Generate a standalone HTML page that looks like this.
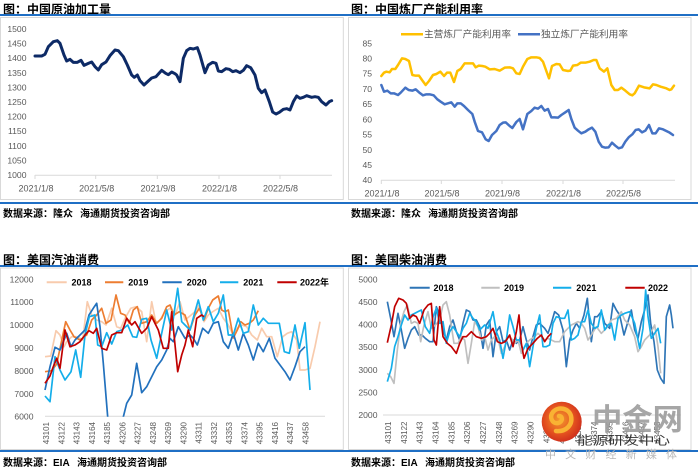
<!DOCTYPE html>
<html><head><meta charset="utf-8"><style>
html,body{margin:0;padding:0;background:#fff;}
svg{display:block;}
text{font-family:"Liberation Sans","Noto Sans CJK SC",sans-serif;}
</style></head><body>
<svg width="698" height="470" viewBox="0 0 698 470" xmlns="http://www.w3.org/2000/svg">
<defs>
<clipPath id="cg"><rect x="35" y="268" width="300" height="148.7"/></clipPath>
<radialGradient id="wg" cx="0.45" cy="0.45" r="0.6"><stop offset="0" stop-color="#F39A2E"/><stop offset="0.6" stop-color="#E4521F"/><stop offset="1" stop-color="#CC2A1C"/></radialGradient>
</defs>
<rect width="698" height="470" fill="#fff"/>

<!-- ============ TOP LEFT ============ -->
<text x="3" y="13.5" font-size="12" font-weight="bold" fill="#000">图：中国原油加工量</text>
<rect x="0.5" y="17.5" width="342.8" height="182" fill="#fff" stroke="#d9d9d9"/>
<g font-size="8.6" fill="#595959" text-anchor="end">
<text x="26.5" y="32">1500</text><text x="26.5" y="46.6">1450</text><text x="26.5" y="61.2">1400</text><text x="26.5" y="75.8">1350</text><text x="26.5" y="90.4">1300</text><text x="26.5" y="105">1250</text><text x="26.5" y="119.6">1200</text><text x="26.5" y="134.2">1150</text><text x="26.5" y="148.8">1100</text><text x="26.5" y="163.4">1050</text><text x="26.5" y="178">1000</text>
</g>
<g stroke="#d9d9d9" stroke-width="1">
<line x1="35" y1="175.3" x2="332" y2="175.3"/>
<line x1="35" y1="175" x2="35" y2="179"/><line x1="95.7" y1="175" x2="95.7" y2="179"/><line x1="157.3" y1="175" x2="157.3" y2="179"/><line x1="219" y1="175" x2="219" y2="179"/><line x1="280" y1="175" x2="280" y2="179"/>
</g>
<g font-size="9" fill="#595959" text-anchor="middle">
<text x="36" y="191.5">2021/1/8</text><text x="96.7" y="191.5">2021/5/8</text><text x="158" y="191.5">2021/9/8</text><text x="219.5" y="191.5">2022/1/8</text><text x="280.5" y="191.5">2022/5/8</text>
</g>
<g transform="scale(0.33333)">
<path d="M105,168 L125,168 L135,163 L145,140 L160,125 L172,122 L180,130 L192,165 L200,183 L210,178 L220,187 L232,187 L243,181 L252,196 L265,190 L275,186 L285,200 L295,210 L305,194 L318,186 L330,167 L345,150 L355,152 L370,170 L382,195 L395,225 L403,232 L412,225 L420,242 L432,255 L445,243 L455,234 L468,230 L485,211 L497,220 L505,224 L515,216 L525,221 L530,225 L540,245 L550,175 L560,152 L570,145 L580,147 L592,143 L600,165 L615,218 L625,195 L638,187 L648,190 L655,213 L665,215 L678,206 L688,208 L698,215 L708,212 L720,218 L730,211 L740,197 L752,203 L765,225 L775,265 L785,278 L795,270 L808,305 L818,336 L828,342 L838,337 L850,328 L860,326 L870,330 L880,305 L890,288 L900,295 L910,292 L920,287 L935,292 L945,290 L955,292 L965,305 L978,315 L988,305 L995,302" fill="none" stroke="#0D2A66" stroke-width="9" stroke-linejoin="round" stroke-linecap="round"/>
</g>
<text x="3" y="217" font-size="10" font-weight="bold" fill="#000">数据来源：隆众</text>
<text x="80" y="217" font-size="10" font-weight="bold" fill="#000">海通期货投资咨询部</text>

<!-- ============ TOP RIGHT ============ -->
<text x="351" y="13.5" font-size="12" font-weight="bold" fill="#000">图：中国炼厂产能利用率</text>
<rect x="348.5" y="17.5" width="342.5" height="182" fill="#fff" stroke="#d9d9d9"/>
<line x1="401" y1="34.3" x2="423" y2="34.3" stroke="#FFC000" stroke-width="2.5"/>
<text x="424" y="37.7" font-size="9.6" fill="#595959" textLength="87" lengthAdjust="spacingAndGlyphs">主营炼厂产能利用率</text>
<line x1="518" y1="34.3" x2="540" y2="34.3" stroke="#4472C4" stroke-width="2.5"/>
<text x="541" y="37.7" font-size="9.6" fill="#595959" textLength="87" lengthAdjust="spacingAndGlyphs">独立炼厂产能利用率</text>
<g font-size="8.6" fill="#595959" text-anchor="end">
<text x="372" y="46.3">85</text><text x="372" y="61.5">80</text><text x="372" y="76.7">75</text><text x="372" y="91.9">70</text><text x="372" y="107.2">65</text><text x="372" y="122.4">60</text><text x="372" y="137.6">55</text><text x="372" y="152.8">50</text><text x="372" y="168">45</text><text x="372" y="183.2">40</text>
</g>
<g stroke="#d9d9d9" stroke-width="1">
<line x1="381" y1="180.3" x2="675" y2="180.3"/>
<line x1="381.3" y1="180" x2="381.3" y2="184"/><line x1="441.3" y1="180" x2="441.3" y2="184"/><line x1="502" y1="180" x2="502" y2="184"/><line x1="563" y1="180" x2="563" y2="184"/><line x1="623" y1="180" x2="623" y2="184"/>
</g>
<g font-size="9" fill="#595959" text-anchor="middle">
<text x="382" y="196.5">2021/1/8</text><text x="442" y="196.5">2021/5/8</text><text x="502.5" y="196.5">2021/9/8</text><text x="563.5" y="196.5">2022/1/8</text><text x="623.5" y="196.5">2022/5/8</text>
</g>
<g transform="translate(348,0) scale(0.33333)" fill="none" stroke-width="7.5" stroke-linejoin="round" stroke-linecap="round">
<path stroke="#FFC000" d="M100,228 L108,218 L115,215 L125,217 L132,207 L142,207 L150,195 L162,175 L172,177 L183,183 L193,225 L203,227 L213,227 L222,240 L233,255 L243,243 L255,225 L265,222 L277,215 L288,228 L297,218 L307,218 L318,246 L328,213 L338,207 L350,190 L365,190 L375,190 L383,202 L392,197 L403,198 L412,200 L425,208 L440,207 L455,212 L470,203 L485,202 L495,205 L505,220 L515,222 L525,200 L538,177 L550,172 L565,172 L575,174 L585,185 L595,213 L603,235 L612,198 L625,192 L635,193 L645,210 L660,213 L667,212 L675,197 L688,195 L698,188 L712,188 L725,185 L737,180 L745,180 L755,205 L768,215 L778,205 L790,255 L800,270 L810,270 L820,263 L832,272 L845,283 L853,286 L860,280 L873,257 L888,262 L905,265 L915,253 L925,255 L938,260 L955,265 L965,270 L970,268 L978,257"/>
<path stroke="#4472C4" d="M100,255 L108,275 L118,272 L128,280 L138,280 L150,285 L158,278 L172,263 L182,270 L193,272 L203,268 L213,277 L225,286 L235,283 L245,283 L257,286 L268,298 L278,305 L290,313 L300,310 L310,307 L320,320 L328,310 L338,310 L348,318 L360,330 L373,342 L380,365 L390,393 L402,397 L413,418 L422,423 L432,405 L445,393 L455,375 L465,368 L473,367 L485,378 L493,384 L505,366 L515,357 L525,388 L538,342 L550,333 L560,323 L570,326 L580,318 L590,332 L600,327 L610,352 L620,352 L630,353 L640,345 L652,337 L662,330 L670,357 L680,383 L690,392 L700,400 L712,395 L722,388 L732,383 L742,395 L752,425 L762,440 L772,443 L782,442 L792,428 L802,437 L812,445 L822,442 L832,425 L842,412 L853,403 L863,390 L872,388 L882,397 L892,392 L903,375 L913,400 L923,400 L933,385 L945,388 L955,393 L965,398 L975,405"/>
</g>
<text x="351" y="217" font-size="10" font-weight="bold" fill="#000">数据来源：隆众</text>
<text x="428" y="217" font-size="10" font-weight="bold" fill="#000">海通期货投资咨询部</text>

<!-- blue rules -->
<rect x="0" y="14" width="698" height="2" fill="#1F6FC5"/>
<rect x="0" y="202" width="698" height="2" fill="#1F6FC5"/>
<rect x="0" y="265" width="698" height="2" fill="#1F6FC5"/>
<rect x="0" y="450" width="698" height="2" fill="#1F6FC5"/>

<!-- ============ BOTTOM LEFT ============ -->
<text x="3" y="264" font-size="12" font-weight="bold" fill="#000">图：美国汽油消费</text>
<rect x="0.5" y="268" width="342.8" height="181.5" fill="#fff" stroke="#d9d9d9"/>
<g font-size="8.6" fill="#595959" text-anchor="end">
<text x="33.5" y="282.3">12000</text><text x="33.5" y="305.2">11000</text><text x="33.5" y="328.1">10000</text><text x="33.5" y="351">9000</text><text x="33.5" y="373.9">8000</text><text x="33.5" y="396.8">7000</text><text x="33.5" y="419.7">6000</text>
</g>
<line x1="45" y1="416.3" x2="325" y2="416.3" stroke="#d9d9d9"/>
<g font-size="8" fill="#595959" text-anchor="end">
<text transform="translate(46,422) rotate(-90)" dy="3">43101</text>
<text transform="translate(61.3,422) rotate(-90)" dy="3">43122</text>
<text transform="translate(76.5,422) rotate(-90)" dy="3">43143</text>
<text transform="translate(91.8,422) rotate(-90)" dy="3">43164</text>
<text transform="translate(107,422) rotate(-90)" dy="3">43185</text>
<text transform="translate(122.3,422) rotate(-90)" dy="3">43206</text>
<text transform="translate(137.5,422) rotate(-90)" dy="3">43227</text>
<text transform="translate(152.8,422) rotate(-90)" dy="3">43248</text>
<text transform="translate(168,422) rotate(-90)" dy="3">43269</text>
<text transform="translate(183.3,422) rotate(-90)" dy="3">43290</text>
<text transform="translate(198.5,422) rotate(-90)" dy="3">43311</text>
<text transform="translate(213.8,422) rotate(-90)" dy="3">43332</text>
<text transform="translate(229,422) rotate(-90)" dy="3">43353</text>
<text transform="translate(244.3,422) rotate(-90)" dy="3">43374</text>
<text transform="translate(259.5,422) rotate(-90)" dy="3">43395</text>
<text transform="translate(274.8,422) rotate(-90)" dy="3">43416</text>
<text transform="translate(290,422) rotate(-90)" dy="3">43437</text>
<text transform="translate(305.3,422) rotate(-90)" dy="3">43458</text>
</g>
<g fill="none" stroke-width="1.7" stroke-linejoin="round" clip-path="url(#cg)">
<polyline stroke="#F8CBAD" points="45,356.7 50.7,356 56,330.7 60,335 64,346.7 66.7,341.7 71.7,336.7 77.3,336.7 82.7,340 87.3,301.7 91.7,315 96.7,320 101.7,321.7 106,325 111.7,308.3 116.7,326.7 120.7,328.3 125,318.3 130.7,308.3 136,306.7 141.7,311.7 146.7,341.7 151.7,301.7 156,323.3 160,320 165,311.7 170,308.3 175,315 180,301.7 185,320 190,316 195,311.7 199.3,305 204,321.7 208.3,315 212.7,311.7 218.3,308.3 223.3,318.3 228.3,325 233.3,335 237.3,328.3 241.7,325 246.7,326.7 251.7,335 257.3,340 261.7,328.3 266.7,336.7 271.7,336.7 277.3,356.7 282.7,336.7 287.3,333.3 291.7,331.7 296.7,340 300,370 305,370 310,368.3 315,346.7 320,321.7"/>
<polyline stroke="#ED7D31" points="45,371.7 51.7,370.7 56.7,364 65.7,321.7 70,330 74,336.7 80,340 86.7,335 91.7,320 96.7,315 101.7,308.3 106,323.3 111,320 116,295 120.7,313.3 125,315 129.3,323.3 133.3,310 137.3,306.7 141.7,323.3 146.7,321.7 151.7,315 156.7,323.3 161.7,318.3 166.7,306.7 170,305 174,315 179.3,311.7 185,315 190,330 195,315 199.3,308.3 204,320 208.3,308.3 212.7,300 218.3,296 221.7,310 225,311.7 228.3,310 233.3,338 237.3,330 240.7,321.7 245,325 249.3,323.3 253.3,320 258.3,310.7"/>
<polyline stroke="#2271BD" points="45,390 50,366.7 55,347.3 60,350 66.7,333.3 71,346.7 75,340 80,335 85,330 89,315 94.3,306.7 96.7,303.3 100,326.7 103.3,363.3 107.7,417 111,440 120,440 123.3,417 126.7,403.3 131.7,395 136.7,363.3 141.7,392.7 146.7,386.7 151.7,376.7 156.7,366.7 161.7,360 166.7,350 170,338.3 173.3,341.7 178.3,326.7 185,338.3 190,335 193.3,338.3 197.3,345 202.7,328.3 208.3,333.3 213.3,323.3 218.3,321.7 223.3,341.7 228.3,348.3 233.3,333.3 238.3,350 243.3,333.3 248.3,345 253.3,360 258.3,343.3 263.3,351.7 269.3,338.3 275,358.3 280,365 285,371.7 290,380 295,366.7 300,351.7 305,346.7"/>
<polyline stroke="#14AEEA" points="45,396 50,401.7 55,356.7 60,370 65,380 71,371.7 75.7,350 80.7,377.3 85,335 89.3,316.7 95,315 97.7,345 101.7,346.7 106.7,332.7 111.7,344 116.7,331.7 121.7,330 127.7,325 132.7,336.7 136.7,337.3 141.7,319.3 146.7,318.3 151,340 156.7,358.3 161.7,333.3 166.7,310 171.7,330 175,306.7 177.7,288.3 181.7,321.7 185,325 190,330 195,311.7 198.3,300 203.3,320 208.3,306.7 213.3,321.7 218.3,313.3 223.3,295 228.3,335 233.3,335 238.3,318.3 243.3,333.3 248.3,331.7 253.3,305 258.3,325 263.3,318.3 268.3,323.3 273.3,323.3 279.3,323.3 284.3,351.7 289.3,353.3 295,325 299.3,348.3 305,322.7 310,390"/>
<polyline stroke="#C00000" points="45,383.3 50,376 53.3,366.7 56.7,358.3 60,368.3 65,330 70,346.7 75,345 80,341.7 85,335 89,330.7 93.3,333.3 96.7,328.3 101.7,348.3 106.7,350 111.7,335 116.7,332.7 121.7,332.7 126.7,318.3 131.7,325 135,321.7 141.7,333.3 146.7,328.3 151.7,316.7 158.3,330 163.3,348.3 168.3,348.3 171.7,311.7 177.7,371.7 181.7,355 185,345 188.3,330 192.7,346.7 196.7,318.3 201.7,315 204,316.7"/>
</g>
<g font-size="9" font-weight="bold" fill="#000">
<line x1="46.7" y1="282.3" x2="66.7" y2="282.3" stroke="#F8CBAD" stroke-width="2"/><text x="71.5" y="285.5">2018</text>
<line x1="105" y1="282.3" x2="123.3" y2="282.3" stroke="#ED7D31" stroke-width="2"/><text x="128.3" y="285.5">2019</text>
<line x1="162.3" y1="282.3" x2="181.7" y2="282.3" stroke="#2271BD" stroke-width="2"/><text x="186.7" y="285.5">2020</text>
<line x1="220" y1="282.3" x2="238.3" y2="282.3" stroke="#14AEEA" stroke-width="2"/><text x="243.3" y="285.5">2021</text>
<line x1="277.3" y1="282.3" x2="296.7" y2="282.3" stroke="#C00000" stroke-width="2"/><text x="300" y="285.5">2022年</text>
</g>
<text x="3" y="466" font-size="10" font-weight="bold" fill="#000">数据来源：EIA</text>
<text x="77" y="466" font-size="10" font-weight="bold" fill="#000">海通期货投资咨询部</text>

<!-- ============ BOTTOM RIGHT ============ -->
<text x="351" y="264" font-size="12" font-weight="bold" fill="#000">图：美国柴油消费</text>
<rect x="348.5" y="268" width="342.5" height="181.5" fill="#fff" stroke="#d9d9d9"/>
<g font-size="8.6" fill="#595959" text-anchor="end">
<text x="377.5" y="282.3">5000</text><text x="377.5" y="304.9">4500</text><text x="377.5" y="327.5">4000</text><text x="377.5" y="350.2">3500</text><text x="377.5" y="372.8">3000</text><text x="377.5" y="395.4">2500</text><text x="377.5" y="418">2000</text>
</g>
<line x1="383" y1="415" x2="681" y2="415" stroke="#d9d9d9"/>
<g font-size="8" fill="#595959" text-anchor="end">
<text transform="translate(388,421.5) rotate(-90)" dy="3">43101</text>
<text transform="translate(403.8,421.5) rotate(-90)" dy="3">43122</text>
<text transform="translate(419.7,421.5) rotate(-90)" dy="3">43143</text>
<text transform="translate(435.5,421.5) rotate(-90)" dy="3">43164</text>
<text transform="translate(451.3,421.5) rotate(-90)" dy="3">43185</text>
<text transform="translate(467.2,421.5) rotate(-90)" dy="3">43206</text>
<text transform="translate(483,421.5) rotate(-90)" dy="3">43227</text>
<text transform="translate(498.8,421.5) rotate(-90)" dy="3">43248</text>
<text transform="translate(514.7,421.5) rotate(-90)" dy="3">43269</text>
<text transform="translate(530.5,421.5) rotate(-90)" dy="3">43290</text>
<text transform="translate(546.3,421.5) rotate(-90)" dy="3">43311</text>
<text transform="translate(562.2,421.5) rotate(-90)" dy="3">43332</text>
<text transform="translate(578,421.5) rotate(-90)" dy="3">43353</text>
<text transform="translate(593.8,421.5) rotate(-90)" dy="3">43374</text>
<text transform="translate(609.7,421.5) rotate(-90)" dy="3">43395</text>
<text transform="translate(625.5,421.5) rotate(-90)" dy="3">43416</text>
<text transform="translate(641.3,421.5) rotate(-90)" dy="3">43437</text>
<text transform="translate(657.2,421.5) rotate(-90)" dy="3">43458</text>
</g>
<g transform="translate(348,240) scale(0.33333)" fill="none" stroke-width="5" stroke-linejoin="round">
<polyline stroke="#2E75B6" points="118,185 128,235 138,290 150,220 160,270 170,325 180,295 190,270 200,260 212,285 222,285 232,295 245,305 255,305 265,200 275,225 285,270 295,300 305,260 315,240 325,275 335,300 345,250 355,210 365,215 375,240 385,240 395,260 405,325 415,255 425,240 435,350 445,275 455,260 465,305 475,300 485,330 495,300 505,310 515,300 525,260 535,300 545,330 555,290 565,255 575,250 590,265 600,280 610,250 620,215 632,225 645,270 655,380 665,300 675,270 685,250 695,265 708,225 718,175 730,305 740,230 748,230 760,215 770,250 785,265 795,190 805,210 815,225 828,285 840,245 850,210 860,270 870,295 880,245 890,210 900,165 908,250 918,305 928,390 938,415 948,430 955,230 965,195 970,225 975,265"/>
<polyline stroke="#BFBFBF" points="118,400 128,410 138,430 148,330 158,250 168,215 178,195 190,250 200,245 210,250 218,305 228,255 240,215 250,265 262,255 275,240 285,195 295,185 305,225 318,310 330,310 340,290 350,300 360,370 370,310 380,245 390,260 400,300 410,290 420,330 430,300 440,290 450,295 460,340 470,320 480,290 490,295 500,310 510,300 520,340 535,310 545,300 560,290 570,280 580,290 590,300 600,295 610,300 620,305 635,305 650,275 660,265 670,255 680,250 690,245 700,250 710,265 720,300 730,285 745,260 760,280 775,265 790,240 805,235 820,215 830,240 845,255 860,290 870,335 880,320 890,300 905,285 920,255 930,320 938,400"/>
<polyline stroke="#14AEEA" points="118,425 130,385 140,320 150,290 160,255 170,225 180,240 190,225 200,220 210,215 220,210 232,260 245,280 255,230 265,205 275,250 285,245 295,310 305,275 315,260 325,275 335,290 345,265 355,250 365,220 375,235 385,245 395,270 410,255 420,265 435,215 445,275 455,300 465,355 475,300 485,225 495,260 505,300 515,300 525,330 535,310 545,380 555,320 565,265 575,225 585,320 595,320 605,315 615,250 625,230 640,235 650,235 660,210 670,300 680,295 690,285 700,245 710,245 720,210 730,250 740,265 750,260 760,210 770,270 780,255 790,250 800,300 810,235 820,225 830,220 845,215 860,250 875,325 885,265 893,150 900,230 910,295 920,280 930,265 938,310"/>
<polyline stroke="#C00000" points="118,308 130,255 140,200 152,175 165,180 175,190 185,235 195,225 205,230 215,250 228,210 240,195 250,190 258,300 265,315 275,200 285,290 298,310 310,320 325,340 335,310 345,290 355,290 370,275 385,290 400,295 415,290 425,280 435,265 448,305 460,310 472,305 485,285 495,320 505,275 513,225 520,310 528,355 540,325 555,310 568,295 580,285 590,305 600,290 610,280"/>
</g>
<g font-size="9" font-weight="bold" fill="#000">
<line x1="409.7" y1="287.7" x2="429.7" y2="287.7" stroke="#2E75B6" stroke-width="2"/><text x="433.5" y="291">2018</text>
<line x1="481.3" y1="287.7" x2="499.7" y2="287.7" stroke="#BFBFBF" stroke-width="2"/><text x="504" y="291">2019</text>
<line x1="553" y1="287.7" x2="571.3" y2="287.7" stroke="#14AEEA" stroke-width="2"/><text x="576.3" y="291">2021</text>
<line x1="625.3" y1="287.7" x2="644.7" y2="287.7" stroke="#C00000" stroke-width="2"/><text x="648" y="291">2022</text>
</g>
<text x="351" y="466" font-size="10" font-weight="bold" fill="#000">数据来源：EIA</text>
<text x="425" y="466" font-size="10" font-weight="bold" fill="#000">海通期货投资咨询部</text>

<!-- watermark -->
<text x="592" y="430" font-size="30" font-weight="bold" fill="#9C9C9C" fill-opacity="0.9" textLength="91" lengthAdjust="spacingAndGlyphs">中金网</text>
<text x="545" y="458" font-size="11" fill="#B8B8B8" textLength="132" lengthAdjust="spacing">中文财经新媒体</text>
<text x="577" y="444.5" font-size="12" fill="#333" textLength="93" lengthAdjust="spacingAndGlyphs">能源研发中心</text>
<circle cx="561.7" cy="421.7" r="20" fill="url(#wg)"/>
<path d="M556,431 C566,432 573,425 571,416 C569,408 558,406 553,412 C549,417 552,424 558,423 C563,422 563,416 559,416" fill="none" stroke="#F9B233" stroke-width="4.5" stroke-linecap="round"/>
</svg>
</body></html>
